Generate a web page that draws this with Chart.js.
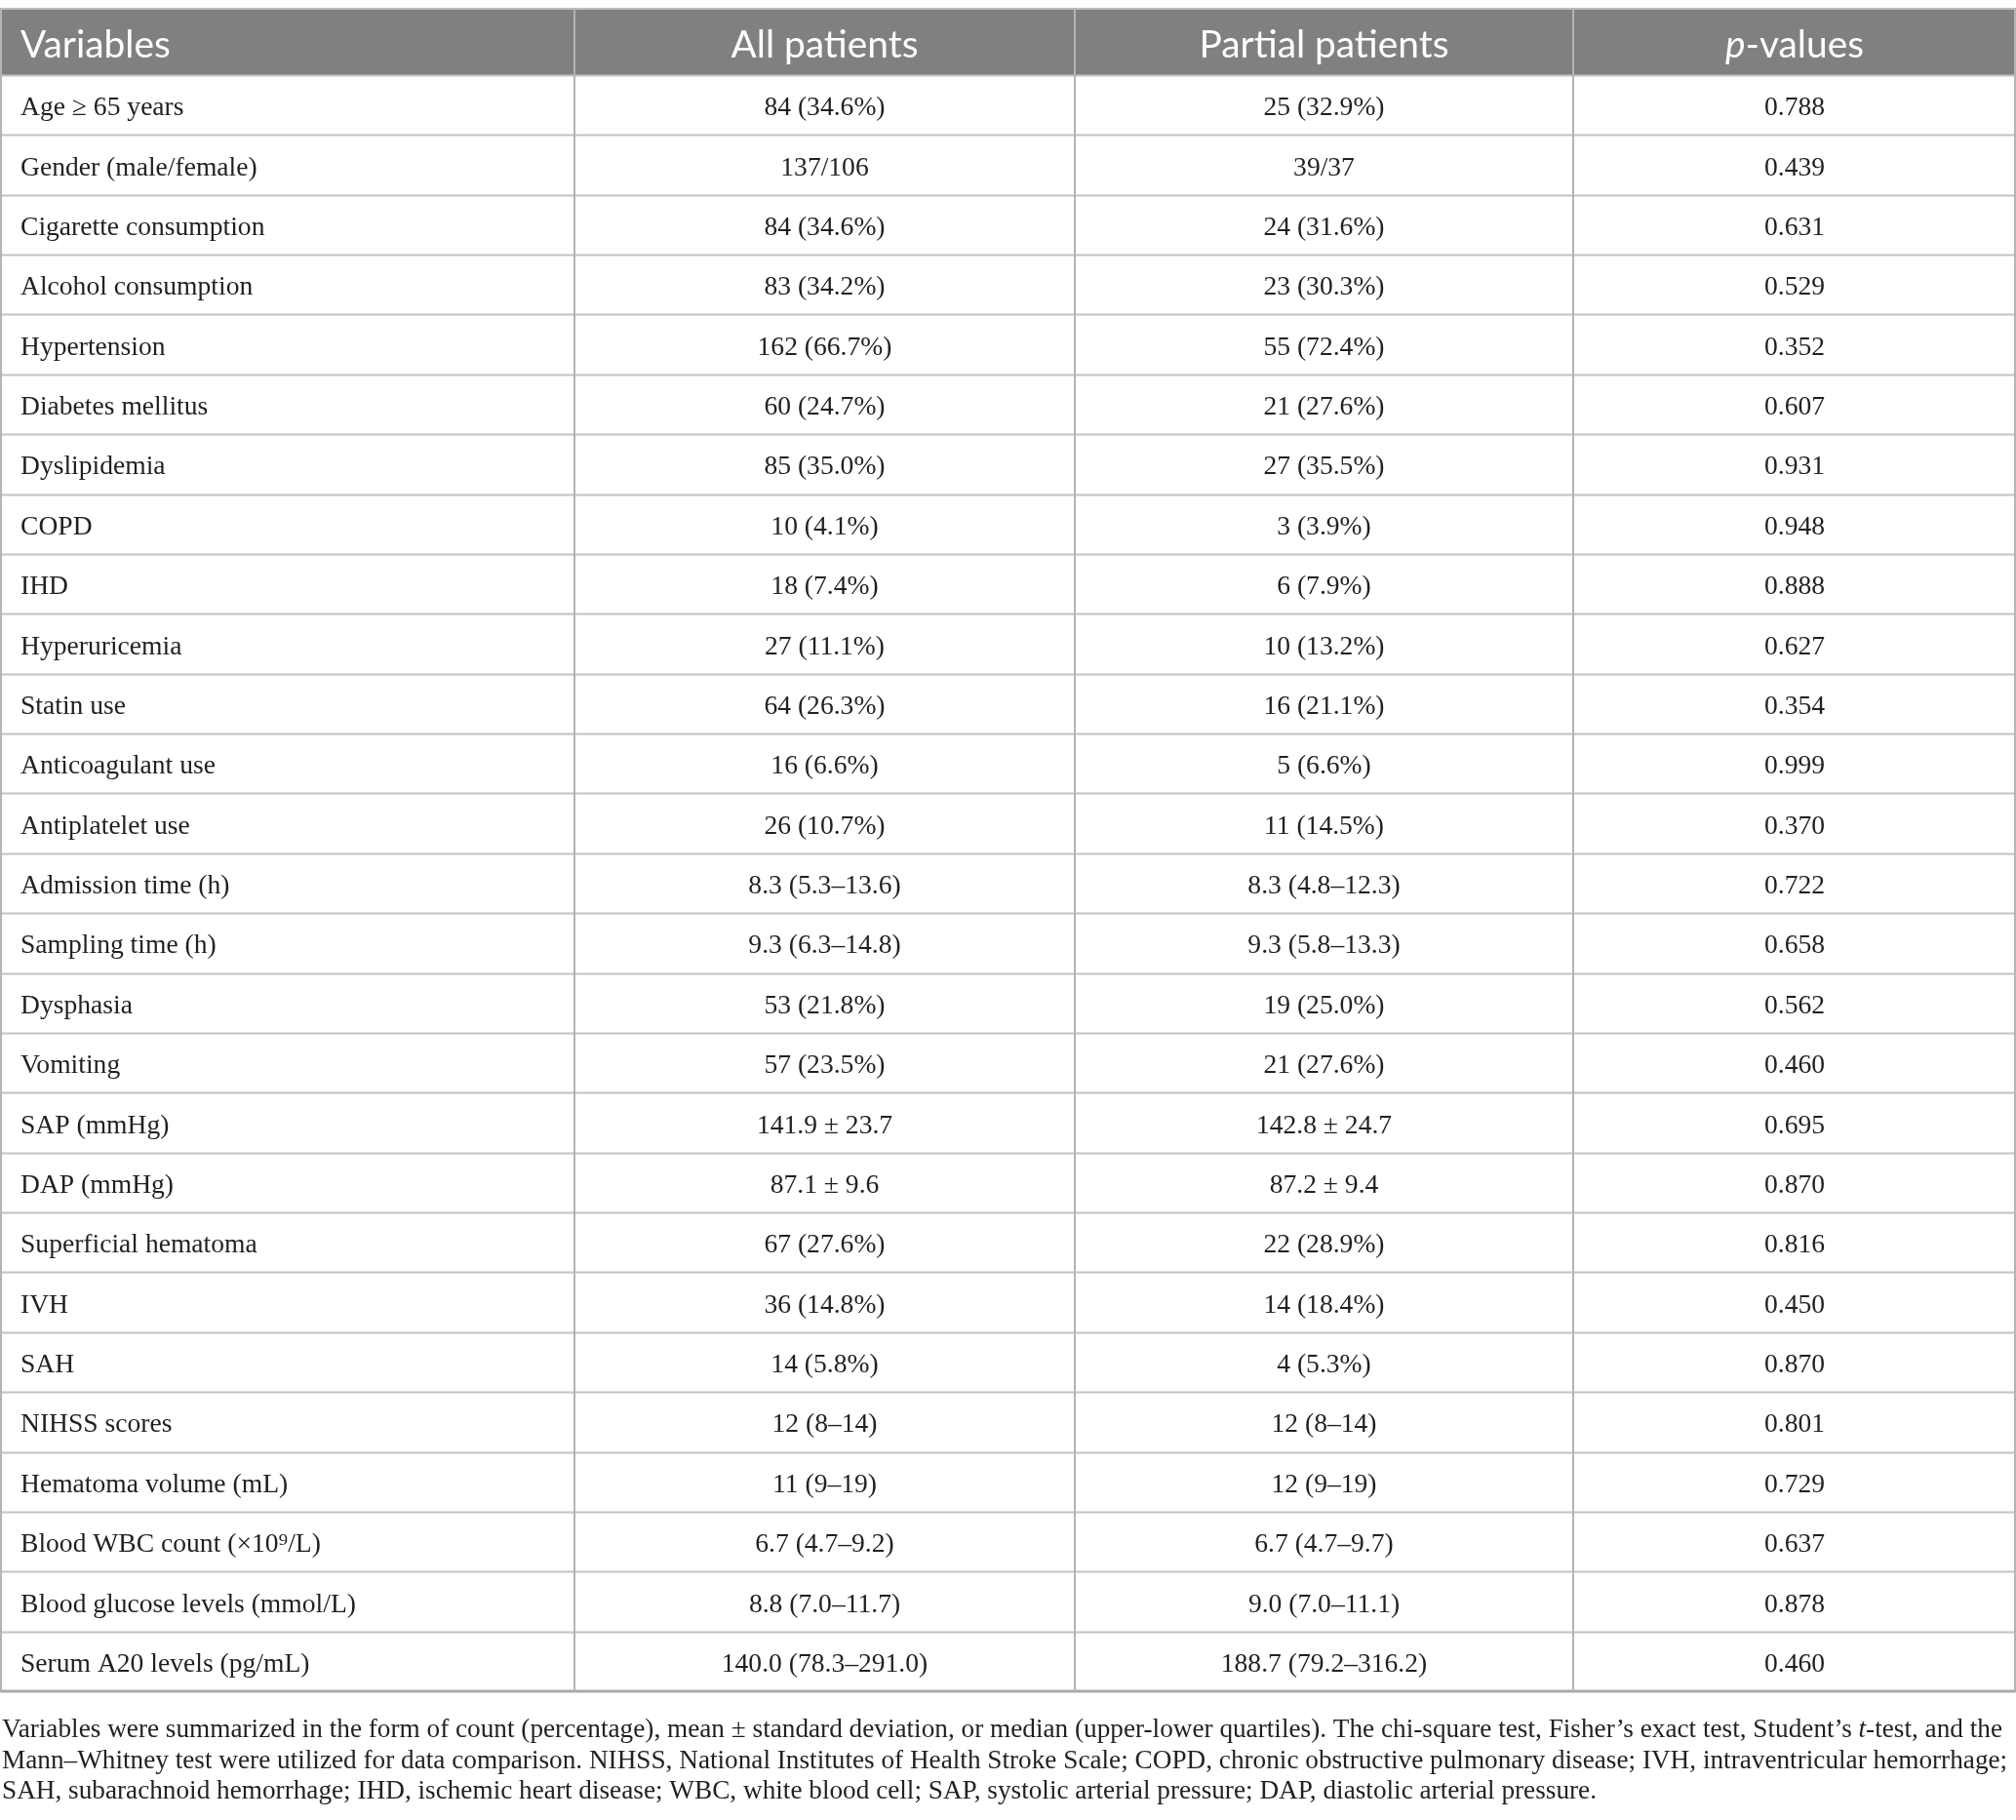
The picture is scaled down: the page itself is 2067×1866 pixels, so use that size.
<!DOCTYPE html>
<html>
<head>
<meta charset="utf-8">
<title>Baseline characteristics</title>
<script src="https://cdn.jsdelivr.net/npm/chart.js@4.4.1/dist/chart.umd.min.js"></script>
<style>
  html, body { margin: 0; padding: 0; background: #fff; overflow: hidden; }
  canvas { display: block; }
</style>
</head>
<body>
<canvas id="tableChart" width="2067" height="1866"></canvas>
<script>
// Table values
const headers = ['Variables', 'All patients', 'Partial patients', 'p-values'];

const variables = [
    'Age \u2265 65 years', 'Gender (male/female)', 'Cigarette consumption', 'Alcohol consumption',
    'Hypertension', 'Diabetes mellitus', 'Dyslipidemia', 'COPD', 'IHD', 'Hyperuricemia',
    'Statin use', 'Anticoagulant use', 'Antiplatelet use', 'Admission time (h)',
    'Sampling time (h)', 'Dysphasia', 'Vomiting', 'SAP (mmHg)', 'DAP (mmHg)',
    'Superficial hematoma', 'IVH', 'SAH', 'NIHSS scores', 'Hematoma volume (mL)',
    'Blood WBC count (\u00d710\u2079/L)', 'Blood glucose levels (mmol/L)', 'Serum A20 levels (pg/mL)'
];

const allPatients = [
    '84 (34.6%)', '137/106', '84 (34.6%)', '83 (34.2%)', '162 (66.7%)', '60 (24.7%)',
    '85 (35.0%)', '10 (4.1%)', '18 (7.4%)', '27 (11.1%)', '64 (26.3%)', '16 (6.6%)',
    '26 (10.7%)', '8.3 (5.3\u201313.6)', '9.3 (6.3\u201314.8)', '53 (21.8%)', '57 (23.5%)',
    '141.9 \u00b1 23.7', '87.1 \u00b1 9.6', '67 (27.6%)', '36 (14.8%)', '14 (5.8%)',
    '12 (8\u201314)', '11 (9\u201319)', '6.7 (4.7\u20139.2)', '8.8 (7.0\u201311.7)',
    '140.0 (78.3\u2013291.0)'
];

const partialPatients = [
    '25 (32.9%)', '39/37', '24 (31.6%)', '23 (30.3%)', '55 (72.4%)', '21 (27.6%)',
    '27 (35.5%)', '3 (3.9%)', '6 (7.9%)', '10 (13.2%)', '16 (21.1%)', '5 (6.6%)',
    '11 (14.5%)', '8.3 (4.8\u201312.3)', '9.3 (5.8\u201313.3)', '19 (25.0%)', '21 (27.6%)',
    '142.8 \u00b1 24.7', '87.2 \u00b1 9.4', '22 (28.9%)', '14 (18.4%)', '4 (5.3%)',
    '12 (8\u201314)', '12 (9\u201319)', '6.7 (4.7\u20139.7)', '9.0 (7.0\u201311.1)',
    '188.7 (79.2\u2013316.2)'
];

const pValues = [
    '0.788', '0.439', '0.631', '0.529', '0.352', '0.607', '0.931', '0.948', '0.888', '0.627',
    '0.354', '0.999', '0.370', '0.722', '0.658', '0.562', '0.460', '0.695', '0.870', '0.816',
    '0.450', '0.870', '0.801', '0.729', '0.637', '0.878', '0.460'
];

// _x_ marks italic
const footnote = [
    'Variables were summarized in the form of count (percentage), mean \u00b1 standard deviation, or median (upper-lower quartiles). The chi-square test, Fisher\u2019s exact test, Student\u2019s _t_-test, and the',
    'Mann\u2013Whitney test were utilized for data comparison. NIHSS, National Institutes of Health Stroke Scale; COPD, chronic obstructive pulmonary disease; IVH, intraventricular hemorrhage;',
    'SAH, subarachnoid hemorrhage; IHD, ischemic heart disease; WBC, white blood cell; SAP, systolic arterial pressure; DAP, diastolic arterial pressure.'
];

// Layout (pixels on the x scale)
const colEdges = [0, 589, 1102, 1613, 2067];
const headerRows = 1.124;
const serif = '"Liberation Serif", "DejaVu Serif", serif';
const sans = 'Lato, "Open Sans", "Noto Sans", sans-serif';

function colAnchor(c) {
    return c === 0 ? 21 : (colEdges[c] + colEdges[c + 1]) / 2;
}

// pick a font size so the sample text gets the wanted width
function fitSize(ctx, family, style, sample, width) {
    ctx.font = style + ' 100px ' + family;
    return 100 * width / ctx.measureText(sample).width;
}

// draw text with _italic_ parts, left aligned
function drawRich(ctx, text, x, y, size, family, scaleX) {
    const parts = text.split('_');
    ctx.save();
    ctx.translate(x, y);
    ctx.scale(scaleX, 1);
    let cx = 0;
    parts.forEach((p, i) => {
        ctx.font = (i % 2 ? 'italic ' : '') + size + 'px ' + family;
        ctx.fillText(p, cx, 0);
        cx += ctx.measureText(p).width;
    });
    ctx.restore();
}

const tablePlugin = {
    id: 'tablePlugin',
    afterDatasetsDraw(chart) {
        const ctx = chart.ctx;
        const xs = chart.scales.x;
        const ys = chart.scales.y;
        const left = xs.getPixelForValue(0);
        const right = xs.getPixelForValue(2067);
        const hTop = ys.getPixelForValue(-headerRows);
        const hBot = ys.getPixelForValue(0);
        const bottom = ys.getPixelForValue(variables.length);

        ctx.save();
        // header band
        ctx.fillStyle = '#808080';
        ctx.fillRect(left, hTop, right - left, hBot - hTop);

        // horizontal rules
        ctx.strokeStyle = '#c2c2c2';
        ctx.lineWidth = 2;
        for (let i = 0; i < variables.length; i++) {
            const yy = Math.round(ys.getPixelForValue(i)) + 0.5;
            ctx.beginPath();
            ctx.moveTo(left, yy);
            ctx.lineTo(right, yy);
            ctx.stroke();
        }
        ctx.strokeStyle = '#bdbdbd';
        ctx.beginPath();
        ctx.moveTo(left, hTop + 1);
        ctx.lineTo(right, hTop + 1);
        ctx.stroke();
        ctx.strokeStyle = '#a9a9a9';
        ctx.lineWidth = 3;
        ctx.beginPath();
        ctx.moveTo(left, bottom);
        ctx.lineTo(right, bottom);
        ctx.stroke();

        // vertical rules
        ctx.lineWidth = 2;
        colEdges.forEach((e, k) => {
            let xx = xs.getPixelForValue(e);
            if (k === 0) xx += 1;
            if (k === colEdges.length - 1) xx -= 1;
            ctx.strokeStyle = '#b4b4b4';
            ctx.beginPath();
            ctx.moveTo(xx, hTop);
            ctx.lineTo(xx, bottom);
            ctx.stroke();
        });

        // header text
        const hSize = fitSize(ctx, sans, '', 'Partial patients', 256);
        const hBase = (hTop + hBot) / 2 + hSize * 0.36 + 2.5;
        ctx.fillStyle = '#ffffff';
        ctx.textBaseline = 'alphabetic';
        headers.forEach((h, c) => {
            const ax = colAnchor(c);
            if (c === 3) {
                ctx.font = 'italic ' + hSize + 'px ' + sans;
                const w1 = ctx.measureText('p').width;
                ctx.font = hSize + 'px ' + sans;
                const w2 = ctx.measureText('-values').width;
                const x0 = ax - (w1 + w2) / 2;
                ctx.font = 'italic ' + hSize + 'px ' + sans;
                ctx.textAlign = 'left';
                ctx.fillText('p', x0, hBase);
                ctx.font = hSize + 'px ' + sans;
                ctx.fillText('-values', x0 + w1, hBase);
            } else {
                ctx.font = hSize + 'px ' + sans;
                ctx.textAlign = c === 0 ? 'left' : 'center';
                ctx.fillText(h, ax, hBase);
            }
        });

        // body cells, placed at each dataset point
        const bSize = fitSize(ctx, serif, '', 'Blood glucose levels (mmol/L)', 344);
        ctx.fillStyle = '#231f20';
        ctx.font = bSize + 'px ' + serif;
        chart.data.datasets.forEach((ds, c) => {
            const meta = chart.getDatasetMeta(c);
            ctx.textAlign = c === 0 ? 'left' : 'center';
            meta.data.forEach((pt, i) => {
                ctx.fillText(ds.cells[i], pt.x, pt.y + bSize * 0.33 + 1.5);
            });
        });

        // footnote below the table
        const fSize = 27.5;
        ctx.textAlign = 'left';
        let raw = 0;
        footnote[0].split('_').forEach((p, i) => {
            ctx.font = (i % 2 ? 'italic ' : '') + fSize + 'px ' + serif;
            raw += ctx.measureText(p).width;
        });
        const squeeze = 2051 / raw;
        footnote.forEach((line, k) => {
            drawRich(ctx, line, 2, bottom + 47 + k * 31.5, fSize, serif, squeeze);
        });
        ctx.restore();
    }
};

document.addEventListener('DOMContentLoaded', function() {
    const columns = [variables, allPatients, partialPatients, pValues];
    const ctx = document.getElementById('tableChart').getContext('2d');
    new Chart(ctx, {
        type: 'scatter',
        data: {
            datasets: columns.map((col, c) => ({
                label: headers[c],
                cells: col,
                data: col.map((_, i) => ({ x: colAnchor(c), y: i + 0.5 })),
                pointRadius: 0,
                pointHoverRadius: 0
            }))
        },
        options: {
            responsive: false,
            animation: false,
            devicePixelRatio: 1,
            layout: { padding: { top: 8, bottom: 132, left: 0, right: 0 } },
            scales: {
                x: { type: 'linear', min: 0, max: 2067, display: false },
                y: { type: 'linear', min: -headerRows, max: variables.length, reverse: true, display: false }
            },
            plugins: {
                legend: { display: false },
                tooltip: { enabled: false }
            },
            events: []
        },
        plugins: [tablePlugin]
    });
});
</script>
</body>
</html>
